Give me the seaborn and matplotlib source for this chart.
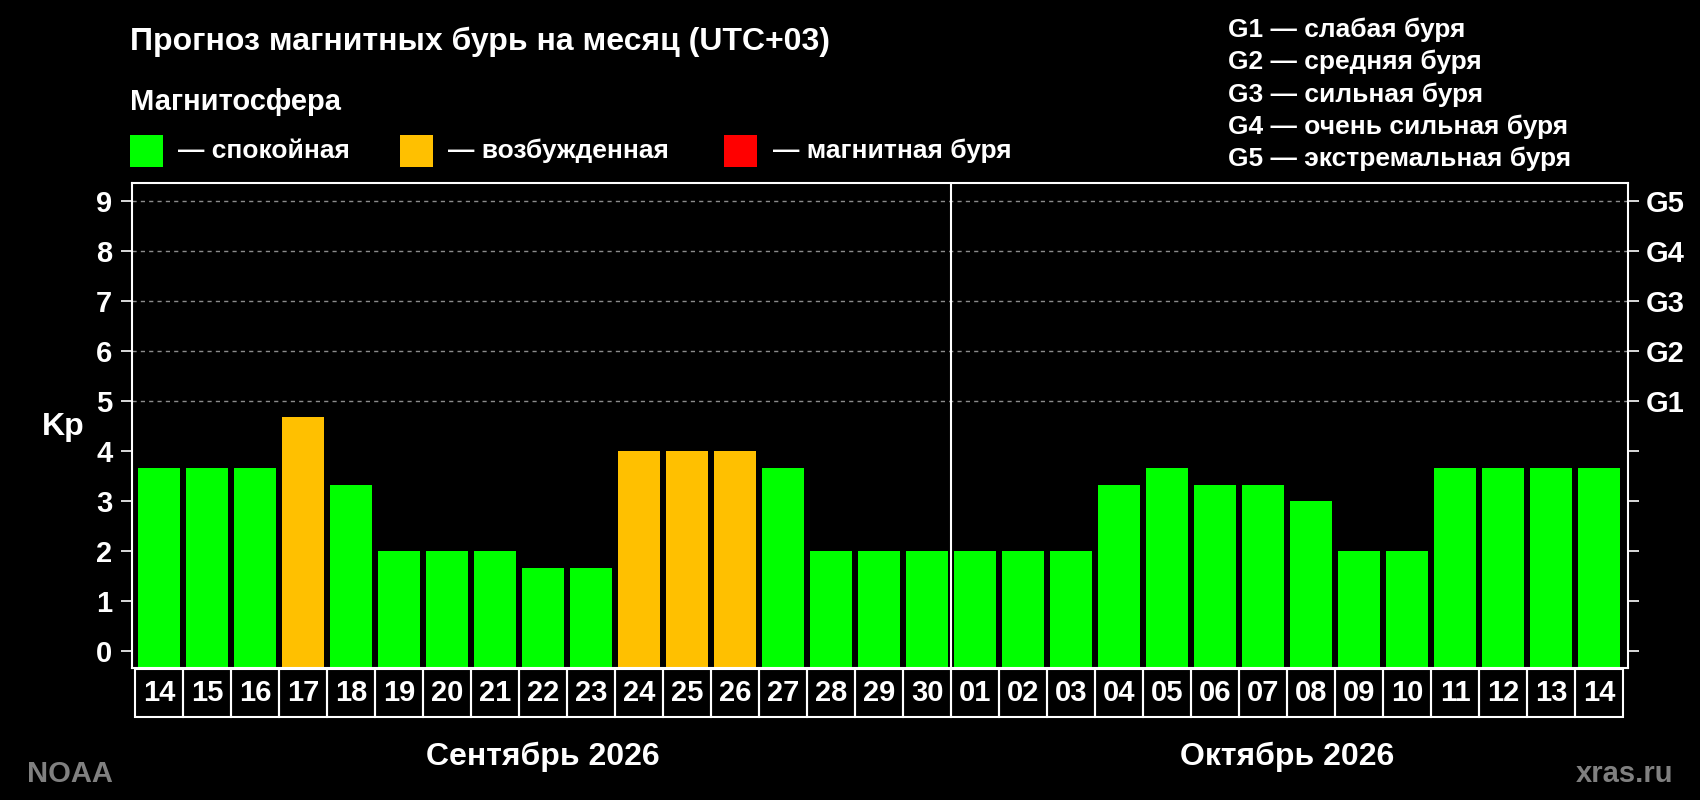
import pandas as pd
import seaborn as sns
import matplotlib.pyplot as plt
import matplotlib.transforms as mtransforms
from matplotlib.patches import Rectangle

# данные прогноза
days = ['14', '15', '16', '17', '18', '19', '20', '21', '22', '23', '24', '25', '26', '27', '28', '29', '30',
        '01', '02', '03', '04', '05', '06', '07', '08', '09', '10', '11', '12', '13', '14']
kp = [3.67, 3.67, 3.67, 4.67, 3.33, 2.0, 2.0, 2.0, 1.67, 1.67, 4.0, 4.0, 4.0, 3.67, 2.0, 2.0, 2.0,
      2.0, 2.0, 2.0, 3.33, 3.67, 3.33, 3.33, 3.0, 2.0, 2.0, 3.67, 3.67, 3.67, 3.67]
month_names = ['Сентябрь 2026', 'Октябрь 2026']
month_len = [17, 14]

status_names = ['спокойная', 'возбужденная', 'магнитная буря']
status_colors = ['#00FF00', '#FFC000', '#FF0000']

g_labels = ['G1', 'G2', 'G3', 'G4', 'G5']
g_levels = [5, 6, 7, 8, 9]
g_text = ['слабая буря', 'средняя буря', 'сильная буря', 'очень сильная буря', 'экстремальная буря']


def kp_status(v):
    if v >= 5:
        return status_names[2]
    if v >= 4:
        return status_names[1]
    return status_names[0]


df = pd.DataFrame({'pos': range(len(kp)), 'day': days, 'kp': kp,
                   'status': [kp_status(v) for v in kp]})

sns.set_style('dark')
plt.rcParams['font.family'] = ['Liberation Sans', 'DejaVu Sans']
plt.rcParams['font.weight'] = 'bold'

W, H = 1700, 800
fig = plt.figure(figsize=(17, 8), dpi=100, facecolor='black')
ax = fig.add_axes([131.7 / W, 1 - 668 / H, (1628 - 131.7) / W, (668 - 183) / H])
ax.set_facecolor('black')

ybot = -0.33
sns.barplot(data=df, x='pos', y='kp', hue='status', palette=dict(zip(status_names, status_colors)),
            dodge=False, width=0.875, saturation=1, legend=False, linewidth=0, ax=ax)
# столбики начинаются от нижней границы оси
for p in ax.patches:
    p.set_y(ybot)
    p.set_height(p.get_height() - ybot)

ax.set_xlim(-0.57, 30.6)
ax.set_ylim(ybot, 9.35)
ax.set_xlabel('')
ax.set_ylabel('')
ax.grid(False)

for v in g_levels:
    ax.axhline(v, color='#8c8c8c', lw=1, ls=(0, (3, 3)), zorder=0.5)
ax.axvline(month_len[0] - 0.5, color='white', lw=1.5)

for s in ax.spines.values():
    s.set_color('white')
    s.set_linewidth(1.5)
    s.set_visible(True)

ax.set_xticks([])
ax.set_yticks(range(10))
ax.set_yticklabels([str(i) for i in range(10)], fontsize=21, fontweight='bold', color='white')
ax.tick_params(axis='y', direction='out', length=8, width=1.2, color='white', pad=6, left=True)

ax2 = ax.twinx()
ax2.set_ylim(ax.get_ylim())
ax2.set_yticks(range(10))
ax2.set_yticklabels([''] * 5 + g_labels, fontsize=21, fontweight='bold', color='white')
ax2.tick_params(axis='y', direction='out', length=8, width=1.2, color='white', pad=5, right=True)
ax2.grid(False)
for s in ax2.spines.values():
    s.set_visible(False)

# подписи дней в рамках
trans = mtransforms.blended_transform_factory(ax.transData, ax.transAxes)
for i, d in enumerate(days):
    ax.add_patch(Rectangle((i - 0.5, -0.101), 1, 0.099, transform=trans, fill=False,
                           edgecolor='white', lw=1.5, clip_on=False))
    ax.text(i, -0.0515, d, transform=trans, ha='center', va='center', fontsize=21,
            fontweight='bold', color='white')

start = 0
for name, n in zip(month_names, month_len):
    ax.text(start + (n - 1) / 2, -0.199, name, transform=trans, ha='center', va='baseline',
            fontsize=23, fontweight='bold', color='white')
    start += n

fig.text(63 / W, 1 - 427 / H, 'Kp', ha='center', va='center', fontsize=23, fontweight='bold', color='white')

fig.text(130 / W, 1 - 50 / H, 'Прогноз магнитных бурь на месяц (UTC+03)', va='baseline',
         fontsize=23, fontweight='bold', color='white')
fig.text(130 / W, 1 - 110 / H, 'Магнитосфера', va='baseline', fontsize=21, fontweight='bold', color='white')

sq_x = [130, 400, 724]
txt_x = [178, 448, 773]
for sx, tx, name, c in zip(sq_x, txt_x, status_names, status_colors):
    fig.add_artist(Rectangle((sx / W, 1 - 167 / H), 33 / W, 32 / H, transform=fig.transFigure,
                             facecolor=c, edgecolor='none'))
    fig.text(tx / W, 1 - 151 / H, '— ' + name, va='center', fontsize=19, fontweight='bold', color='white')

for k, (g, t) in enumerate(zip(g_labels, g_text)):
    fig.text(1228 / W, 1 - (37 + 32.3 * k) / H, f'{g} — {t}', va='baseline', fontsize=19,
             fontweight='bold', color='white')

fig.text(27 / W, 1 - 782 / H, 'NOAA', va='baseline', fontsize=21, fontweight='bold', color='#808080')
fig.text(1673 / W, 1 - 782 / H, 'xras.ru', ha='right', va='baseline', fontsize=21, fontweight='bold',
         color='#808080')

fig.savefig('out.png', dpi=100, facecolor='black')
